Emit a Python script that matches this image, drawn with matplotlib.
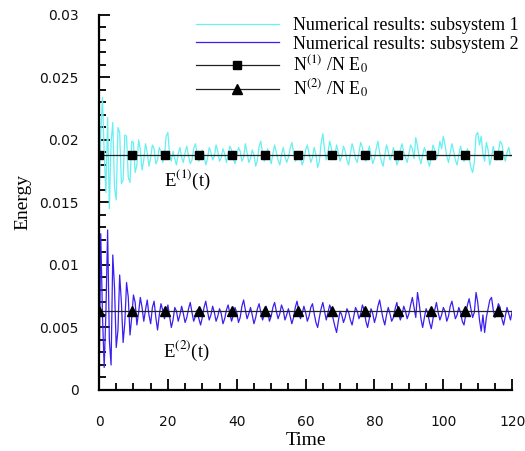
import numpy as np
import matplotlib
matplotlib.use("Agg")
import matplotlib.pyplot as plt

# energies, in units of 1e-4, every 0.5 time units (t = 0 .. 120)
e1 = [
    150, 205, 234, 190, 158, 218, 145, 198, 214, 162, 152, 210, 206, 165, 168, 204, 203, 170, 166, 199,
    198, 174, 180, 200, 192, 176, 184, 197, 190, 179, 186, 196, 193, 181, 184, 194, 190, 182, 187, 203,
    206, 188, 183, 191, 185, 180, 189, 194, 186, 182, 190, 195, 187, 181, 184, 193, 197, 189, 183, 186,
    192, 188, 180, 185, 194, 190, 184, 187, 196, 191, 183, 186, 193, 189, 182, 188, 195, 192, 185, 181,
    187, 194, 191, 183, 186, 197, 190, 182, 185, 192, 188, 179, 184, 195, 199, 189, 183, 187, 193, 186,
    181, 189, 196, 190, 184, 180, 188, 194, 187, 182, 186, 193, 198, 190, 183, 185, 191, 187, 180, 184,
    192, 196, 189, 182, 186, 194, 188, 178, 183, 197, 205, 192, 184, 190, 199, 193, 185, 188, 196, 190,
    183, 187, 195, 191, 184, 180, 189, 197, 192, 185, 182, 190, 198, 194, 186, 183, 189, 195, 188, 181,
    185, 193, 199, 190, 183, 179, 188, 196, 191, 184, 187, 194, 189, 180, 184, 192, 197, 190, 186, 182,
    189, 196, 193, 185, 202, 195, 186, 181, 188, 194, 190, 183, 179, 187, 196, 192, 185, 189, 199, 193,
    203, 196, 187, 182, 190, 197, 191, 184, 180, 188, 195, 189, 183, 186, 193, 186, 178, 174, 182, 204,
    206, 196, 203, 189, 183, 198, 192, 180, 186, 195, 188, 184, 191, 199, 197, 188, 183, 190, 194, 187,
    188,
]
e2 = [
    0, 125, 60, 18, 62, 128, 40, 20, 108, 82, 34, 48, 92, 70, 38, 54, 86, 74, 44, 58,
    76, 70, 52, 62, 74, 66, 55, 64, 72, 60, 53, 66, 71, 58, 48, 60, 69, 64, 57, 62,
    68, 59, 50, 56, 66, 63, 55, 60, 67, 61, 54, 58, 65, 70, 62, 55, 59, 64, 57, 52,
    58, 66, 71, 63, 56, 60, 67, 62, 55, 59, 65, 61, 53, 57, 64, 68, 61, 55, 60, 66,
    62, 54, 58, 67, 72, 64, 57, 61, 66, 60, 53, 58, 65, 69, 62, 56, 60, 67, 63, 55,
    59, 66, 70, 63, 57, 61, 68, 64, 56, 60, 65, 59, 53, 58, 66, 71, 64, 57, 61, 67,
    62, 55, 59, 66, 69, 61, 54, 50, 58, 65, 70, 63, 56, 62, 68, 64, 57, 51, 46, 55,
    63, 60, 54, 58, 65, 62, 56, 52, 59, 66, 63, 57, 61, 68, 64, 55, 50, 57, 65, 61,
    54, 59, 67, 72, 64, 57, 52, 60, 66, 61, 55, 58, 65, 70, 62, 56, 60, 67, 63, 57,
    61, 68, 74, 66, 58, 78, 69, 57, 50, 58, 65, 61, 54, 49, 57, 64, 70, 62, 56, 60,
    66, 63, 55, 59, 67, 71, 64, 57, 60, 66, 62, 55, 52, 60, 68, 73, 65, 58, 62, 78,
    70, 56, 47, 60, 46, 58, 65, 72, 74, 64, 58, 63, 69, 66, 57, 52, 59, 66, 61, 56,
    63,
]
t = np.arange(len(e1)) * 0.5

# theoretical levels N(i)/N E0 and where the markers sit
nivel1 = 0.0188
nivel2 = 0.0063
t_marcas = [0, 9.65, 19.3, 28.95, 38.6, 48.25, 57.9, 67.55, 77.2, 86.85, 96.5, 106.15, 115.8, 120]

plt.rcParams["mathtext.fontset"] = "stix"
serif = "Liberation Serif"

fig = plt.figure(figsize=(5.25, 4.51), dpi=100)
ax = fig.add_axes([0.1886, 0.1353, 0.787, 0.8315])

ax.plot(t, np.array(e1) * 1e-4, color="#66f0f2", lw=0.9, zorder=2,
        label="Numerical results: subsystem 1")
ax.plot(t, np.array(e2) * 1e-4, color="#3a1ff0", lw=0.9, zorder=2,
        label="Numerical results: subsystem 2")
ax.plot(t_marcas, [nivel1] * len(t_marcas), color="#222222", lw=0.9,
        marker="s", ms=5.5, markevery=list(range(13)), mfc="black", mec="black",
        zorder=3, label=r"N$^{(1)}$ /N E$_0$")
ax.plot(t_marcas, [nivel2] * len(t_marcas), color="#222222", lw=0.9,
        marker="^", ms=7, markevery=list(range(13)), mfc="black", mec="black",
        zorder=3, label=r"N$^{(2)}$ /N E$_0$")

ax.text(25.6, 0.0168, r"E$^{(1)}$(t)", fontsize=13.5, family=serif, ha="center", va="center")
ax.text(25.3, 0.0031, r"E$^{(2)}$(t)", fontsize=13.5, family=serif, ha="center", va="center")

ax.set_xlim(0, 120)
ax.set_ylim(0, 0.03)
ax.set_xticks(range(0, 121, 20))
ax.set_xticks(range(0, 121, 5), minor=True)
ax.set_yticks([0, 0.005, 0.01, 0.015, 0.02, 0.025, 0.03])
ax.set_yticklabels(["0", "0.005", "0.01", "0.015", "0.02", "0.025", "0.03"])
ax.set_yticks(np.arange(0, 0.0301, 0.001), minor=True)
ax.tick_params(which="both", direction="in", width=1.3, labelsize=10)
ax.tick_params(axis="y", pad=14.5)
ax.tick_params(axis="x", pad=18)
ax.tick_params(which="major", length=8)
ax.tick_params(which="minor", length=5)
for lab in ax.get_xticklabels() + ax.get_yticklabels():
    lab.set_color("#111111")

for s in ["top", "right"]:
    ax.spines[s].set_visible(False)
for s in ["left", "bottom"]:
    ax.spines[s].set_linewidth(1.6)

ax.set_xlabel("Time", fontsize=14, family=serif, labelpad=2)
ax.set_ylabel("Energy", fontsize=14, family=serif, labelpad=6)

ax.legend(loc="upper left", bbox_to_anchor=(0.373, 0.962), bbox_transform=fig.transFigure,
          frameon=False, prop={"family": serif, "size": 13}, handlelength=4.6,
          handletextpad=0.8, labelspacing=0.08, borderpad=0, borderaxespad=0)

fig.savefig("out.png", dpi=100)
